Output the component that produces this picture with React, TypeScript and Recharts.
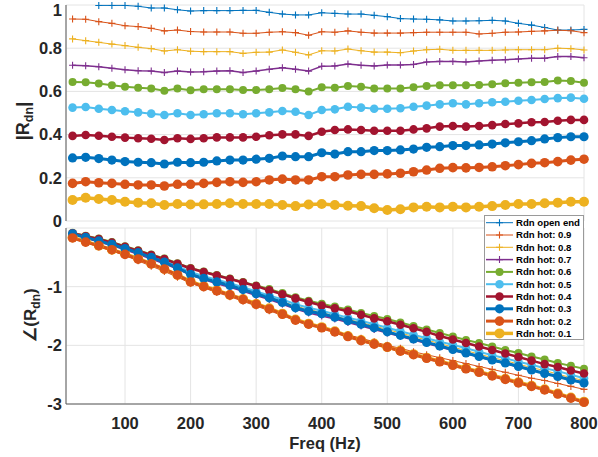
import { LineChart, Line, XAxis, YAxis, CartesianGrid } from 'recharts';

const FREQS = [
  20, 40, 60, 80, 100, 120, 140, 160, 180, 200,
  220, 240, 260, 280, 300, 320, 340, 360, 380, 400,
  420, 440, 460, 480, 500, 520, 540, 560, 580, 600,
  620, 640, 660, 680, 700, 720, 740, 760, 780, 800,
];

const X_TICKS = [100, 200, 300, 400, 500, 600, 700, 800];
const MAG_TICKS = [0, 0.2, 0.4, 0.6, 0.8, 1];
const PHASE_TICKS = [-3, -2, -1, 0];

// |Rdn|
const MAG_OPEN = [
  null, null, 0.998, 0.998, 0.998, 0.994, 0.986, 0.986, 0.978, 0.972,
  0.974, 0.974, 0.974, 0.975, 0.975, 0.966, 0.958, 0.954, 0.954, 0.964,
  0.961, 0.958, 0.958, 0.952, 0.946, 0.937, 0.935, 0.934, 0.931, 0.926,
  0.926, 0.927, 0.929, 0.926, 0.915, 0.907, 0.896, 0.884, 0.884, 0.887,
];
const MAG_09 = [
  0.935, 0.934, 0.923, 0.915, 0.904, 0.9, 0.892, 0.88, 0.884, 0.877,
  0.875, 0.875, 0.875, 0.869, 0.869, 0.874, 0.876, 0.872, 0.86, 0.876,
  0.874, 0.88, 0.874, 0.87, 0.87, 0.87, 0.872, 0.874, 0.874, 0.874,
  0.874, 0.866, 0.869, 0.874, 0.875, 0.878, 0.88, 0.883, 0.881, 0.872,
];
const MAG_08 = [
  0.843, 0.835, 0.827, 0.819, 0.812, 0.804, 0.798, 0.787, 0.793, 0.786,
  0.784, 0.784, 0.784, 0.776, 0.781, 0.782, 0.792, 0.781, 0.769, 0.788,
  0.787, 0.796, 0.788, 0.782, 0.782, 0.779, 0.787, 0.793, 0.795, 0.79,
  0.79, 0.79, 0.79, 0.792, 0.793, 0.793, 0.793, 0.8, 0.798, 0.792,
];
const MAG_07 = [
  0.721, 0.719, 0.714, 0.707, 0.7, 0.696, 0.694, 0.687, 0.694, 0.69,
  0.691, 0.694, 0.696, 0.687, 0.694, 0.702, 0.71, 0.702, 0.694, 0.716,
  0.718, 0.727, 0.721, 0.718, 0.722, 0.722, 0.725, 0.736, 0.739, 0.739,
  0.736, 0.741, 0.744, 0.747, 0.75, 0.753, 0.753, 0.761, 0.761, 0.756,
];
const MAG_06 = [
  0.644, 0.642, 0.637, 0.628, 0.622, 0.617, 0.613, 0.603, 0.613, 0.605,
  0.61, 0.61, 0.61, 0.606, 0.606, 0.61, 0.616, 0.61, 0.599, 0.619,
  0.617, 0.625, 0.622, 0.614, 0.614, 0.614, 0.619, 0.625, 0.628, 0.628,
  0.628, 0.63, 0.633, 0.638, 0.64, 0.642, 0.644, 0.65, 0.648, 0.64,
];
const MAG_05 = [
  0.525, 0.528, 0.52, 0.514, 0.508, 0.503, 0.497, 0.491, 0.499, 0.491,
  0.494, 0.499, 0.499, 0.494, 0.499, 0.503, 0.509, 0.506, 0.491, 0.514,
  0.517, 0.529, 0.525, 0.52, 0.52, 0.522, 0.529, 0.534, 0.54, 0.545,
  0.54, 0.545, 0.55, 0.552, 0.557, 0.56, 0.565, 0.569, 0.571, 0.566,
];
const MAG_04 = [
  0.394, 0.398, 0.395, 0.39, 0.386, 0.383, 0.381, 0.375, 0.383, 0.38,
  0.383, 0.387, 0.387, 0.387, 0.39, 0.397, 0.401, 0.401, 0.394, 0.413,
  0.421, 0.424, 0.421, 0.418, 0.418, 0.418, 0.424, 0.429, 0.437, 0.44,
  0.437, 0.44, 0.444, 0.449, 0.452, 0.457, 0.458, 0.464, 0.468, 0.468,
];
const MAG_03 = [
  0.292, 0.295, 0.289, 0.282, 0.275, 0.272, 0.27, 0.264, 0.272, 0.27,
  0.272, 0.278, 0.282, 0.282, 0.286, 0.29, 0.301, 0.298, 0.298, 0.316,
  0.31, 0.321, 0.321, 0.326, 0.326, 0.329, 0.333, 0.341, 0.344, 0.349,
  0.349, 0.352, 0.356, 0.362, 0.367, 0.372, 0.38, 0.386, 0.39, 0.39,
];
const MAG_02 = [
  0.174, 0.182, 0.177, 0.174, 0.17, 0.167, 0.167, 0.162, 0.17, 0.17,
  0.174, 0.179, 0.182, 0.179, 0.182, 0.19, 0.194, 0.19, 0.19, 0.205,
  0.205, 0.213, 0.216, 0.216, 0.218, 0.221, 0.228, 0.236, 0.244, 0.247,
  0.246, 0.248, 0.251, 0.256, 0.261, 0.267, 0.27, 0.275, 0.282, 0.286,
];
const MAG_01 = [
  0.097, 0.108, 0.102, 0.097, 0.089, 0.085, 0.082, 0.074, 0.079, 0.076,
  0.077, 0.079, 0.082, 0.079, 0.079, 0.079, 0.074, 0.069, 0.076, 0.079,
  0.074, 0.071, 0.069, 0.059, 0.051, 0.054, 0.063, 0.066, 0.063, 0.066,
  0.063, 0.066, 0.069, 0.074, 0.079, 0.079, 0.082, 0.085, 0.089, 0.089,
];

// angle(Rdn)
const PH_OPEN = [
  -0.11, -0.17, -0.23, -0.29, -0.36, -0.43, -0.51, -0.59, -0.69, -0.79,
  -0.87, -0.93, -0.99, -1.06, -1.13, -1.2, -1.28, -1.36, -1.43, -1.48,
  -1.54, -1.6, -1.66, -1.72, -1.78, -1.84, -1.9, -1.96, -2.02, -2.08,
  -2.14, -2.2, -2.26, -2.31, -2.37, -2.42, -2.48, -2.53, -2.59, -2.64,
];
const PH_09 = [
  -0.18, -0.25, -0.32, -0.39, -0.47, -0.56, -0.65, -0.74, -0.84, -0.94,
  -1.02, -1.1, -1.17, -1.25, -1.33, -1.41, -1.49, -1.57, -1.64, -1.69,
  -1.76, -1.82, -1.88, -1.94, -2.0, -2.05, -2.11, -2.16, -2.21, -2.26,
  -2.31, -2.36, -2.41, -2.46, -2.51, -2.56, -2.6, -2.65, -2.7, -2.75,
];
const PH_08 = [
  -0.1, -0.16, -0.22, -0.28, -0.35, -0.42, -0.49, -0.57, -0.66, -0.77,
  -0.84, -0.9, -0.96, -1.03, -1.1, -1.17, -1.25, -1.33, -1.39, -1.44,
  -1.5, -1.56, -1.61, -1.67, -1.73, -1.79, -1.85, -1.91, -1.97, -2.03,
  -2.09, -2.15, -2.21, -2.26, -2.32, -2.38, -2.43, -2.49, -2.55, -2.6,
];
const PH_07 = [
  -0.11, -0.17, -0.24, -0.3, -0.37, -0.45, -0.53, -0.61, -0.7, -0.8,
  -0.88, -0.95, -1.01, -1.08, -1.15, -1.22, -1.3, -1.38, -1.45, -1.5,
  -1.55, -1.61, -1.67, -1.73, -1.79, -1.85, -1.91, -1.97, -2.03, -2.09,
  -2.14, -2.2, -2.26, -2.31, -2.37, -2.42, -2.48, -2.53, -2.58, -2.63,
];
const PH_06 = [
  -0.08, -0.13, -0.18, -0.24, -0.31, -0.38, -0.45, -0.52, -0.6, -0.68,
  -0.74, -0.8, -0.86, -0.92, -0.98, -1.04, -1.11, -1.18, -1.24, -1.29,
  -1.34, -1.39, -1.45, -1.5, -1.55, -1.61, -1.67, -1.73, -1.79, -1.85,
  -1.91, -1.96, -2.02, -2.08, -2.13, -2.19, -2.24, -2.3, -2.35, -2.4,
];
const PH_05 = [
  -0.09, -0.15, -0.21, -0.27, -0.34, -0.41, -0.48, -0.56, -0.65, -0.75,
  -0.82, -0.88, -0.94, -1.01, -1.08, -1.15, -1.22, -1.3, -1.36, -1.41,
  -1.47, -1.53, -1.58, -1.64, -1.7, -1.76, -1.82, -1.88, -1.94, -1.99,
  -2.05, -2.11, -2.17, -2.22, -2.28, -2.33, -2.39, -2.44, -2.5, -2.56,
];
const PH_04 = [
  -0.09, -0.14, -0.19, -0.25, -0.32, -0.39, -0.46, -0.53, -0.61, -0.69,
  -0.75, -0.81, -0.87, -0.93, -0.99, -1.06, -1.13, -1.2, -1.26, -1.32,
  -1.37, -1.42, -1.48, -1.54, -1.59, -1.65, -1.71, -1.77, -1.84, -1.9,
  -1.96, -2.02, -2.08, -2.14, -2.2, -2.26, -2.32, -2.37, -2.43, -2.48,
];
const PH_03 = [
  -0.1, -0.16, -0.22, -0.28, -0.35, -0.42, -0.5, -0.58, -0.68, -0.79,
  -0.86, -0.92, -0.98, -1.05, -1.12, -1.19, -1.27, -1.36, -1.42, -1.46,
  -1.52, -1.58, -1.64, -1.7, -1.77, -1.83, -1.89, -1.95, -2.01, -2.07,
  -2.13, -2.19, -2.25, -2.3, -2.36, -2.42, -2.48, -2.53, -2.59, -2.64,
];
const PH_02 = [
  -0.17, -0.24, -0.3, -0.37, -0.45, -0.53, -0.61, -0.7, -0.8, -0.92,
  -1.0, -1.07, -1.14, -1.22, -1.3, -1.38, -1.47, -1.57, -1.64, -1.7,
  -1.77, -1.85, -1.92, -1.98, -2.03, -2.1, -2.16, -2.22, -2.28, -2.34,
  -2.4, -2.46, -2.52, -2.58, -2.64, -2.7, -2.76, -2.83, -2.9, -2.97,
];
const PH_01 = [
  -0.16, -0.23, -0.3, -0.37, -0.44, -0.52, -0.61, -0.7, -0.8, -0.91,
  -0.99, -1.06, -1.14, -1.21, -1.29, -1.37, -1.46, -1.56, -1.63, -1.69,
  -1.76, -1.84, -1.91, -1.97, -2.03, -2.09, -2.15, -2.21, -2.27, -2.33,
  -2.39, -2.45, -2.51, -2.57, -2.63, -2.69, -2.75, -2.82, -2.89, -2.96,
];

type Series = {
  key: string; name: string; color: string; mag: (number | null)[]; ph: number[];
  marker: 'plus' | 'circle'; width: number; r: number;
};

const SERIES: Series[] = [
  { key: 'open', name: 'Rdn open end', color: '#0072BD', mag: MAG_OPEN, ph: PH_OPEN, marker: 'plus', width: 1, r: 3.5 },
  { key: 'h09', name: 'Rdn hot: 0.9', color: '#D95319', mag: MAG_09, ph: PH_09, marker: 'plus', width: 1, r: 3.5 },
  { key: 'h08', name: 'Rdn hot: 0.8', color: '#EDB120', mag: MAG_08, ph: PH_08, marker: 'plus', width: 1, r: 3.5 },
  { key: 'h07', name: 'Rdn hot: 0.7', color: '#7E2F8E', mag: MAG_07, ph: PH_07, marker: 'plus', width: 1.5, r: 3.5 },
  { key: 'h06', name: 'Rdn hot: 0.6', color: '#77AC30', mag: MAG_06, ph: PH_06, marker: 'circle', width: 2, r: 4 },
  { key: 'h05', name: 'Rdn hot: 0.5', color: '#4DBEEE', mag: MAG_05, ph: PH_05, marker: 'circle', width: 2, r: 4.3 },
  { key: 'h04', name: 'Rdn hot: 0.4', color: '#A2142F', mag: MAG_04, ph: PH_04, marker: 'circle', width: 2.5, r: 4.3 },
  { key: 'h03', name: 'Rdn hot: 0.3', color: '#0072BD', mag: MAG_03, ph: PH_03, marker: 'circle', width: 3, r: 4.6 },
  { key: 'h02', name: 'Rdn hot: 0.2', color: '#D95319', mag: MAG_02, ph: PH_02, marker: 'circle', width: 3, r: 4.8 },
  { key: 'h01', name: 'Rdn hot: 0.1', color: '#EDB120', mag: MAG_01, ph: PH_01, marker: 'circle', width: 3.5, r: 5 },
];

// lower panel is drawn with 0.1 underneath so the orange 0.2 sits on top of it
const PHASE_ORDER = ['open', 'h01', 'h09', 'h08', 'h07', 'h06', 'h05', 'h04', 'h03', 'h02'];

const rows = FREQS.map((f, i) => {
  const row: Record<string, number | null> = { f };
  SERIES.forEach(s => {
    row[`m_${s.key}`] = s.mag[i];
    row[`p_${s.key}`] = s.ph[i];
  });
  return row;
});

const FONT = '"Liberation Sans", Arial, sans-serif';
const TICK = { fontFamily: FONT, fontWeight: 700, fontSize: 16.5, fill: '#262626' };
const GRID = '#e4e4e4';
const AXIS = '#5a5a5a';

function Marker({ s, cx, cy }: { s: Series; cx: number; cy: number }) {
  if (s.marker === 'plus') {
    const a = s.r;
    return (
      <path d={`M${cx - a},${cy}h${2 * a}M${cx},${cy - a}v${2 * a}`} stroke={s.color} strokeWidth={1.1} fill="none" />
    );
  }
  return <circle cx={cx} cy={cy} r={s.r} fill={s.color} stroke="none" />;
}

function dotFor(s: Series) {
  return (p: { cx?: number | null; cy?: number | null; index?: number }) => {
    const { cx, cy, index } = p;
    if (cx == null || cy == null || Number.isNaN(cy)) return <g key={`e${index}`} />;
    return <g key={`d${index}`}><Marker s={s} cx={cx} cy={cy} /></g>;
  };
}

function LegendBox() {
  return (
    <svg style={{ position: 'absolute', left: 484, top: 215 }} width={100} height={125}>
      <rect x={0.5} y={0.5} width={99} height={124} fill="#fff" stroke="#9a9a9a" />
      {SERIES.map((s, i) => {
        const y = 7.7 + i * 12.3;
        return (
          <g key={s.key}>
            <line x1={2} x2={29} y1={y} y2={y} stroke={s.color} strokeWidth={s.width} />
            <Marker s={s} cx={15.5} cy={y} />
            <text x={32} y={y + 3.4} fontFamily={FONT} fontWeight={700} fontSize={9.6} fill="#000">
              {s.name}
            </text>
          </g>
        );
      })}
    </svg>
  );
}

function AxisTitles() {
  return (
    <svg style={{ position: 'absolute', left: 0, top: 0, pointerEvents: 'none' }} width={598} height={457}>
      <text transform="translate(29,121) rotate(-90)" textAnchor="middle" fontFamily={FONT} fontWeight={700} fontSize={18} fill="#262626">
        |R<tspan fontSize={12.5} dy={4}>dn</tspan><tspan dy={-4}>|</tspan>
      </text>
      <text transform="translate(36,315) rotate(-90)" textAnchor="middle" fontFamily={FONT} fontWeight={700} fontSize={17} fill="#262626">
        ∠(R<tspan fontSize={12} dy={4}>dn</tspan><tspan dy={-4}>)</tspan>
      </text>
      <text x={325} y={449} textAnchor="middle" fontFamily={FONT} fontWeight={700} fontSize={16.5} fill="#262626">
        Freq (Hz)
      </text>
    </svg>
  );
}

export default function App() {
  const byKey = Object.fromEntries(SERIES.map(s => [s.key, s]));
  return (
    <div style={{ position: 'fixed', left: 0, top: 0, width: 598, height: 457, background: '#fff' }}>
      <div style={{ position: 'absolute', left: 0, top: 221 }}>
        <LineChart width={598} height={236} data={rows} margin={{ top: 7, right: 14, bottom: 0, left: 0 }}>
          <CartesianGrid stroke={GRID} strokeWidth={1} />
          <XAxis
            dataKey="f" type="number" domain={[10, 800]} ticks={X_TICKS} height={53}
            tick={TICK} tickLine={false} tickSize={0} tickMargin={13} axisLine={{ stroke: AXIS }}
          />
          <YAxis
            type="number" domain={[-3, 0]} ticks={PHASE_TICKS} width={66}
            tick={TICK} tickLine={false} tickSize={0} tickMargin={4} axisLine={{ stroke: AXIS }}
            tickFormatter={(v: number) => (v === 0 ? '' : String(v))}
          />
          {PHASE_ORDER.map(k => {
            const s = byKey[k];
            return (
              <Line
                key={s.key} dataKey={`p_${s.key}`} stroke={s.color} strokeWidth={s.width}
                dot={dotFor(s)} activeDot={false} isAnimationActive={false}
              />
            );
          })}
        </LineChart>
      </div>
      <div style={{ position: 'absolute', left: 0, top: 0 }}>
        <LineChart width={598} height={232} data={rows} margin={{ top: 5, right: 14, bottom: 11, left: 0 }}>
          <CartesianGrid stroke={GRID} strokeWidth={1} />
          <XAxis
            dataKey="f" type="number" domain={[10, 800]} ticks={X_TICKS}
            tick={false} tickLine={false} height={0} axisLine={{ stroke: AXIS }}
          />
          <YAxis
            type="number" domain={[0, 1]} ticks={MAG_TICKS} width={66}
            tick={TICK} tickLine={false} tickSize={0} tickMargin={4} axisLine={{ stroke: AXIS }}
            tickFormatter={(v: number) => String(v)}
          />
          {SERIES.map(s => (
            <Line
              key={s.key} dataKey={`m_${s.key}`} stroke={s.color} strokeWidth={s.width}
              dot={dotFor(s)} activeDot={false} isAnimationActive={false} connectNulls={false}
            />
          ))}
        </LineChart>
      </div>
      <LegendBox />
      <AxisTitles />
    </div>
  );
}
